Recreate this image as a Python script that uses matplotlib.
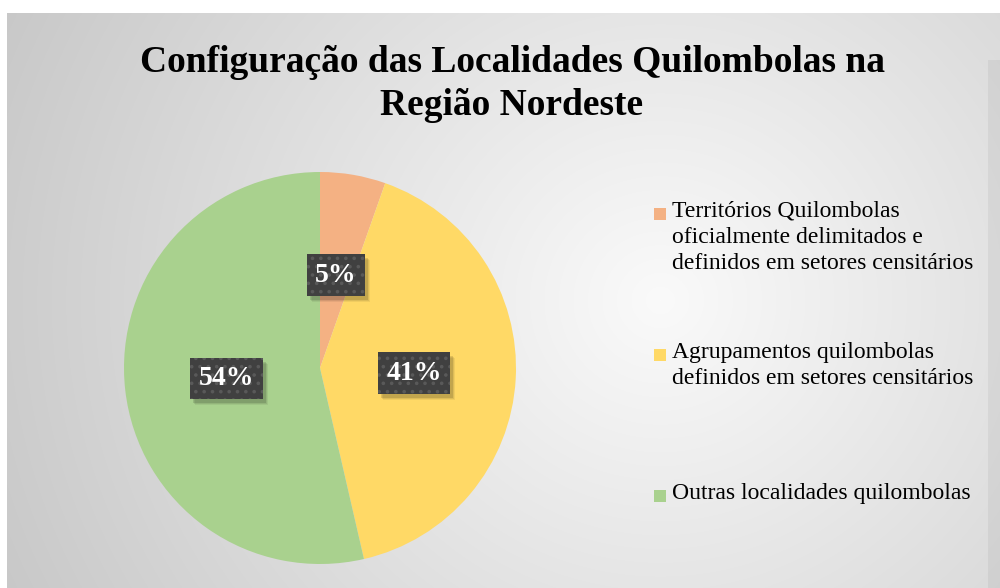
import numpy as np
import matplotlib
matplotlib.use("Agg")
import matplotlib.pyplot as plt
import matplotlib.transforms as mtransforms
from matplotlib.patches import Rectangle

plt.rcParams['font.family'] = ['Liberation Serif', 'DejaVu Serif']
plt.rcParams['hatch.linewidth'] = 1.4

title = "Configuração das Localidades Quilombolas na\nRegião Nordeste"
categories = [
    "Territórios Quilombolas\noficialmente delimitados e\ndefinidos em setores censitários",
    "Agrupamentos quilombolas\ndefinidos em setores censitários",
    "Outras localidades quilombolas",
]
shares = [5.4, 41.0, 53.6]
colors = ["#F4B183", "#FFD966", "#A9D18E"]

W, H = 1000, 588
fig = plt.figure(figsize=(W / 100, H / 100), dpi=100)

# background: radial grey gradient inside the chart frame
bg = fig.add_axes([0, 0, 1, 1])
yy, xx = np.mgrid[0:H, 0:W]
d = np.hypot(xx - 660, (yy - 300) * 1.05)
g = np.clip(250 - 0.069 * d, 190, 252) / 255.0
img = np.dstack([g, g, g])
img[(xx >= 988) & (yy >= 60)] *= 0.95
img[(xx < 7) | (yy < 13)] = 1.0
bg.imshow(img, extent=[0, W, H, 0], aspect="auto", interpolation="bilinear")
bg.set_xlim(0, W)
bg.set_ylim(H, 0)
bg.axis("off")

fig.text(0.512, 1 - 84 / H, title, ha="center", va="center", fontsize=27,
         fontweight="bold", color="black", linespacing=1.3)

# pie
cx, cy, r = 320, 368, 196
ax = fig.add_axes([(cx - r) / W, (H - cy - r) / H, 2 * r / W, 2 * r / H])
wedges, _ = ax.pie(shares, colors=colors, startangle=90, counterclock=False,
                   radius=1, wedgeprops=dict(linewidth=0))
ax.set_xlim(-1, 1)
ax.set_ylim(-1, 1)
ax.axis("off")

labels = []
for w, v in zip(wedges, shares):
    ang = np.deg2rad((w.theta1 + w.theta2) / 2)
    px, py = 0.48 * np.cos(ang), 0.48 * np.sin(ang)
    t = ax.text(px, py, f"{v:.0f}%", ha="center", va="center", fontsize=20,
                fontweight="bold", color="white", zorder=5,
                bbox=dict(boxstyle="square,pad=0.3", facecolor="#404040",
                          edgecolor="#595959", hatch="..", linewidth=0))
    labels.append(t)

# soft drop shadow under each label box
fig.canvas.draw()
ident = mtransforms.IdentityTransform()
for t in labels:
    bb = t.get_bbox_patch().get_window_extent()
    for k, a in [(6, 0.06), (5, 0.08), (4, 0.12)]:
        ax.add_artist(Rectangle((bb.x0 + k - 1, bb.y0 - k), bb.width, bb.height,
                                transform=ident, facecolor="black",
                                alpha=a, edgecolor="none", zorder=4))

# legend
entry_y = [214, 355, 496]
for lab, col, ey in zip(categories, colors, entry_y):
    fig.patches.append(Rectangle((654 / W, 1 - (ey + 6) / H), 12 / W, 12 / H,
                                 transform=fig.transFigure, facecolor=col,
                                 edgecolor="none"))
    fig.text(672 / W, 1 - (ey - 13) / H, lab, ha="left", va="top",
             fontsize=17, color="black", linespacing=1.32)

fig.savefig("out.png", dpi=100)
